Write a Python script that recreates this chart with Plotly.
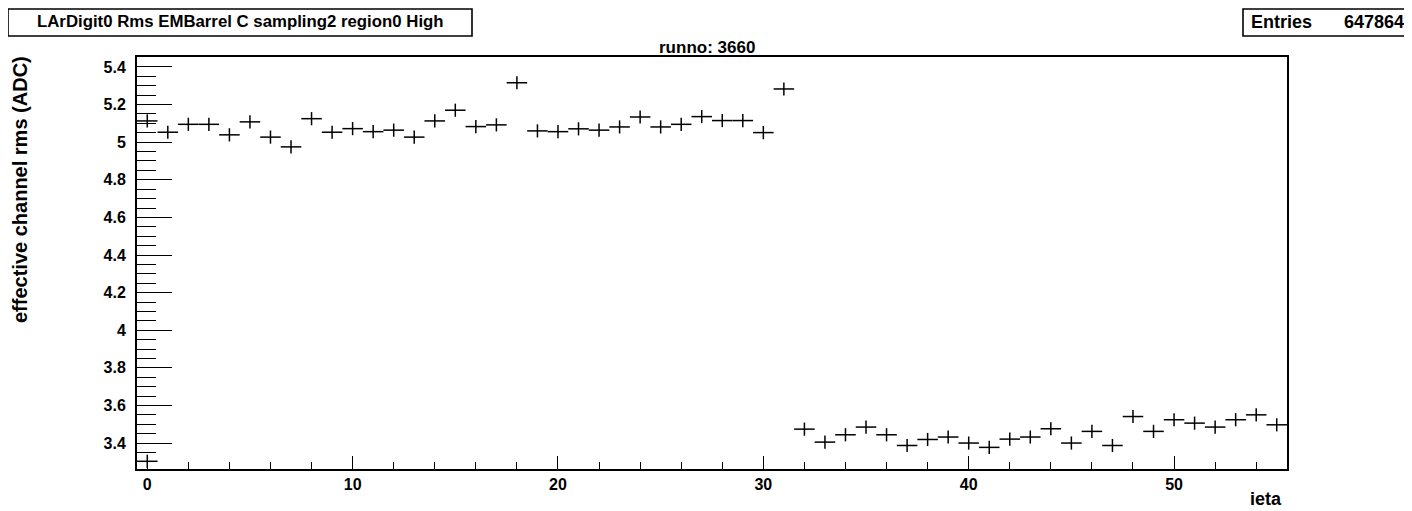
import plotly.graph_objects as go

# ieta bins and effective channel rms (ADC)
ieta = list(range(56)) + [0]
rms = [5.113, 5.053, 5.095, 5.095, 5.039, 5.108, 5.027, 4.975, 5.125, 5.053,
       5.072, 5.056, 5.064, 5.027, 5.113, 5.170, 5.083, 5.092, 5.316, 5.060,
       5.056, 5.071, 5.064, 5.081, 5.134, 5.081, 5.095, 5.136, 5.115, 5.115,
       5.051, 5.283, 3.474, 3.405, 3.444, 3.485, 3.444, 3.387, 3.419, 3.432,
       3.400, 3.377, 3.421, 3.432, 3.476, 3.400, 3.462, 3.387, 3.541, 3.462,
       3.524, 3.506, 3.485, 3.524, 3.550, 3.497, 3.303]
rms_err = 0.035

title = "LArDigit0 Rms EMBarrel C sampling2 region0 High"
subtitle = "runno: 3660"
entries = "647864"

# the page body has an 8px margin, so the figure is shrunk by that much
OFF = 8
W, H = 1412 - OFF, 511 - OFF
L, R, T, B = 137 - OFF, 1287 - OFF, 57 - OFF, 469 - OFF
FONT = "Liberation Sans, Arial, Helvetica, sans-serif"


def px(x):
    # x in window pixels -> paper coords
    return (x - OFF - L) / (R - L)


def py(y):
    return (B - (y - OFF)) / (B - T)


fig = go.Figure()
fig.add_trace(go.Scatter(
    x=ieta, y=rms, mode="markers",
    marker=dict(size=0.1, color="black"),
    error_x=dict(type="constant", value=0.5, width=0, thickness=1.5, color="black"),
    error_y=dict(type="constant", value=rms_err, width=0, thickness=1.5, color="black"),
    showlegend=False, hoverinfo="x+y",
))

axis_font = dict(family=FONT, size=16, color="black", weight="bold")

fig.update_xaxes(
    range=[-0.5, 55.5], tick0=0, dtick=10, ticks="inside", ticklen=13,
    tickwidth=1.3, tickcolor="black",
    minor=dict(dtick=2, ticks="inside", ticklen=7, tickwidth=1.3, tickcolor="black"),
    showline=True, linecolor="black", linewidth=2, mirror=True,
    showgrid=False, zeroline=False, tickfont=axis_font,
)
fig.update_yaxes(
    range=[3.262, 5.453], tick0=3.4, dtick=0.2, ticks="inside", ticklen=35,
    tickwidth=1.3, tickcolor="black",
    minor=dict(dtick=0.05, ticks="inside", ticklen=19, tickwidth=1.3, tickcolor="black"),
    showline=True, linecolor="black", linewidth=2, mirror=True,
    showgrid=False, zeroline=False, tickfont=axis_font, ticklabelstandoff=6,
)

shapes = [
    dict(type="rect", xref="paper", yref="paper",
         x0=px(8), x1=px(472), y0=py(36), y1=py(9),
         line=dict(color="black", width=1.6), fillcolor="white"),
    dict(type="rect", xref="paper", yref="paper",
         x0=px(1243), x1=px(1410), y0=py(36), y1=py(9),
         line=dict(color="black", width=1.6), fillcolor="white"),
]

annotations = [
    dict(text=title, x=px(240), y=py(22), xref="paper", yref="paper",
         xanchor="center", yanchor="middle", showarrow=False,
         font=dict(family=FONT, size=16.8, color="black", weight="bold")),
    dict(text="Entries", x=px(1249), y=py(22), xref="paper", yref="paper",
         xanchor="left", yanchor="middle", showarrow=False,
         font=dict(family=FONT, size=18, color="black", weight="bold")),
    dict(text=entries, x=px(1406), y=py(22), xref="paper", yref="paper",
         xanchor="right", yanchor="middle", showarrow=False,
         font=dict(family=FONT, size=18, color="black", weight="bold")),
    dict(text=subtitle, x=px(707), y=py(48), xref="paper", yref="paper",
         xanchor="center", yanchor="middle", showarrow=False,
         font=dict(family=FONT, size=17, color="black", weight="bold")),
    dict(text="ieta", x=px(1284), y=py(499), xref="paper", yref="paper",
         xanchor="right", yanchor="middle", showarrow=False,
         font=dict(family=FONT, size=18, color="black", weight="bold")),
    dict(text="effective channel rms (ADC)", x=px(20), y=py(190),
         xref="paper", yref="paper", xanchor="center", yanchor="middle",
         textangle=-90, showarrow=False,
         font=dict(family=FONT, size=20, color="black", weight="bold")),
]

fig.update_layout(
    width=W, height=H,
    margin=dict(l=L, r=W - R, t=T, b=H - B, pad=0),
    paper_bgcolor="white", plot_bgcolor="white",
    shapes=shapes, annotations=annotations,
    font=dict(family=FONT, color="black"),
)

fig.write_html("out.html")
